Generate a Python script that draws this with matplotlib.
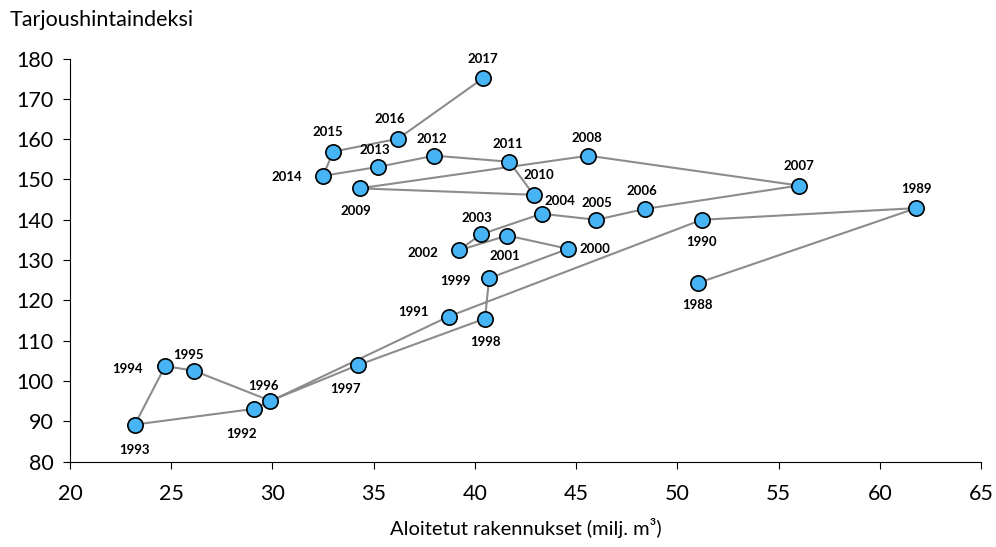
import matplotlib
matplotlib.use("Agg")
import matplotlib.pyplot as plt

# vuodet, aloitetut rakennukset (milj. m3) ja tarjoushintaindeksi
years = list(range(1988, 2018))
volume = [51.0, 61.8, 51.2, 38.7, 29.1, 23.2, 24.7, 26.1, 29.9, 34.2,
          40.5, 40.7, 44.6, 41.6, 39.2, 40.3, 43.3, 46.0, 48.4, 56.0,
          45.6, 34.3, 42.9, 41.7, 38.0, 35.2, 32.5, 33.0, 36.2, 40.4]
index = [124.3, 142.9, 140.0, 116.0, 93.1, 89.2, 103.7, 102.6, 95.1, 103.9,
         115.5, 125.5, 132.8, 136.1, 132.4, 136.4, 141.5, 140.0, 142.7, 148.5,
         155.9, 147.8, 146.2, 154.4, 155.9, 153.1, 150.9, 156.9, 160.1, 175.1]

# label offsets in points (dx, dy)
offsets = {
    1988: (0, -16), 1989: (0, 14), 1990: (0, -16), 1991: (-25, 3),
    1992: (-9, -18), 1993: (0, -18), 1994: (-27, -2), 1995: (-4, 11),
    1996: (-5, 11), 1997: (-9, -17), 1998: (0, -17), 1999: (-24, -2),
    2000: (19, 0), 2001: (-2, -15), 2002: (-26, -2), 2003: (-3, 12),
    2004: (13, 9), 2005: (0, 12), 2006: (-2, 13), 2007: (0, 14),
    2008: (-1, 13), 2009: (-3, -16), 2010: (4, 14), 2011: (-1, 13),
    2012: (-2, 12), 2013: (-2, 12), 2014: (-26, -1), 2015: (-4, 14),
    2016: (-6, 14), 2017: (0, 14),
}

plt.rcParams['font.family'] = ['Lato', 'DejaVu Sans']

fig = plt.figure(figsize=(9.96, 5.47), dpi=100)
ax = fig.add_axes([0.0703, 0.156, 0.9147, 0.737])

ax.plot(volume, index, color='#8c8c8c', linewidth=1.5, zorder=1)
ax.plot(volume, index, linestyle='none', marker='o', markersize=11,
        markerfacecolor='#47b4f5', markeredgecolor='black',
        markeredgewidth=1.2, zorder=2)

for yr, xv, yv in zip(years, volume, index):
    dx, dy = offsets[yr]
    ax.annotate(str(yr), (xv, yv), xytext=(dx, dy), textcoords='offset points',
                ha='center', va='center', fontsize=9.5, fontweight='bold')

ax.set_xlim(20, 65)
ax.set_ylim(80, 180)
ax.set_xticks(range(20, 66, 5))
ax.set_yticks(range(80, 181, 10))
ax.spines['top'].set_visible(False)
ax.spines['right'].set_visible(False)
ax.tick_params(direction='out', length=5, labelsize=15.5, pad=7)
ax.tick_params(axis='x', pad=11)

ax.set_xlabel('Aloitetut rakennukset (milj. m³)', fontsize=14.5, labelpad=10)
fig.text(10 / 996, 1 - 20 / 547, 'Tarjoushintaindeksi', fontsize=15.5,
         ha='left', va='center')

fig.savefig('out.png', dpi=100)
